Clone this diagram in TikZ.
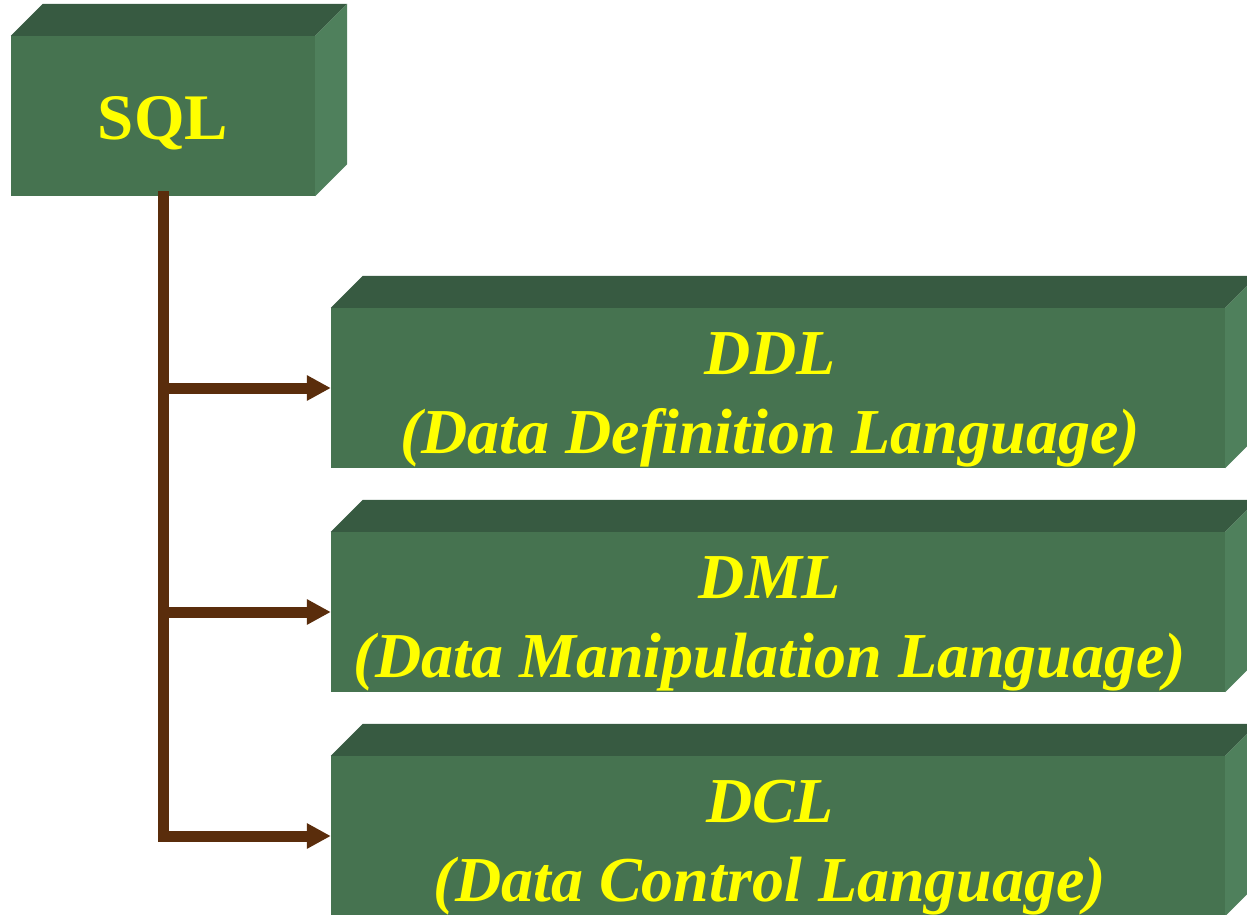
\documentclass[tikz,border=0pt]{standalone}
\usepackage{fontspec}
\setmainfont{Liberation Serif}
\usetikzlibrary{arrows.meta}
\definecolor{frontc}{HTML}{467350}
\definecolor{topc}{HTML}{375A41}
\definecolor{sidec}{HTML}{4F805C}
\definecolor{brownc}{HTML}{5A2D0C}
\definecolor{txtc}{HTML}{FFFF00}
\newcommand\cubefaces[1]{%
  \fill[topc] (#1.north west) -- ++(32,-32) -- ([shift={(32,-32)}]#1.north east) -- (#1.north east) -- cycle;
  \fill[sidec] (#1.north east) -- ++(32,-32) -- ([shift={(32,-32)}]#1.south east) -- (#1.south east) -- cycle;
}
\begin{document}
\begin{tikzpicture}[x=1pt,y=-1pt,
  face/.style={draw=none, fill=frontc, inner sep=0pt, minimum width=#1, minimum height=160pt},
  lbl/.style={text=txtc, align=center, inner sep=0pt, font=\bfseries\itshape\fontsize{64}{79}\selectfont},
  conn/.style={draw=brownc, line width=11pt, line join=miter, line cap=butt},
  tip/.style={-{Triangle[length=24pt,width=24pt]}}]
\clip (0,0) rectangle (1247,914);
\fill[white] (0,0) rectangle (1247,914);
% SQL box
\node[face=304pt] (sql) at (163,116) {};
\cubefaces{sql}
\node[text=txtc, inner sep=0pt, text depth=0pt, font=\bfseries\fontsize{65}{78}\selectfont] (sqlt) at (163,118) {SQL};
% language boxes
\node[face=894pt] (ddl) at (778,388) {};
\cubefaces{ddl}
\node[face=894pt] (dml) at (778,612) {};
\cubefaces{dml}
\node[face=894pt] (dcl) at (778,836) {};
\cubefaces{dcl}
\node[lbl] (ddlt) at ([xshift=-8pt,yshift=-12pt]ddl.center) {DDL\\(Data Definition Language)};
\node[lbl] (dmlt) at ([xshift=-8pt,yshift=-12pt]dml.center) {DML\\(Data Manipulation Language)};
\node[lbl] (dclt) at ([xshift=-8pt,yshift=-12pt]dcl.center) {DCL\\(Data Control Language)};
% connectors
\coordinate (trunk) at ([yshift=5pt]sql.south);
\draw[conn,tip] (trunk) |- (dcl.west);
\draw[conn,tip] (trunk |- ddl.west) -- (ddl.west);
\draw[conn,tip] (trunk |- dml.west) -- (dml.west);
\end{tikzpicture}
\end{document}
